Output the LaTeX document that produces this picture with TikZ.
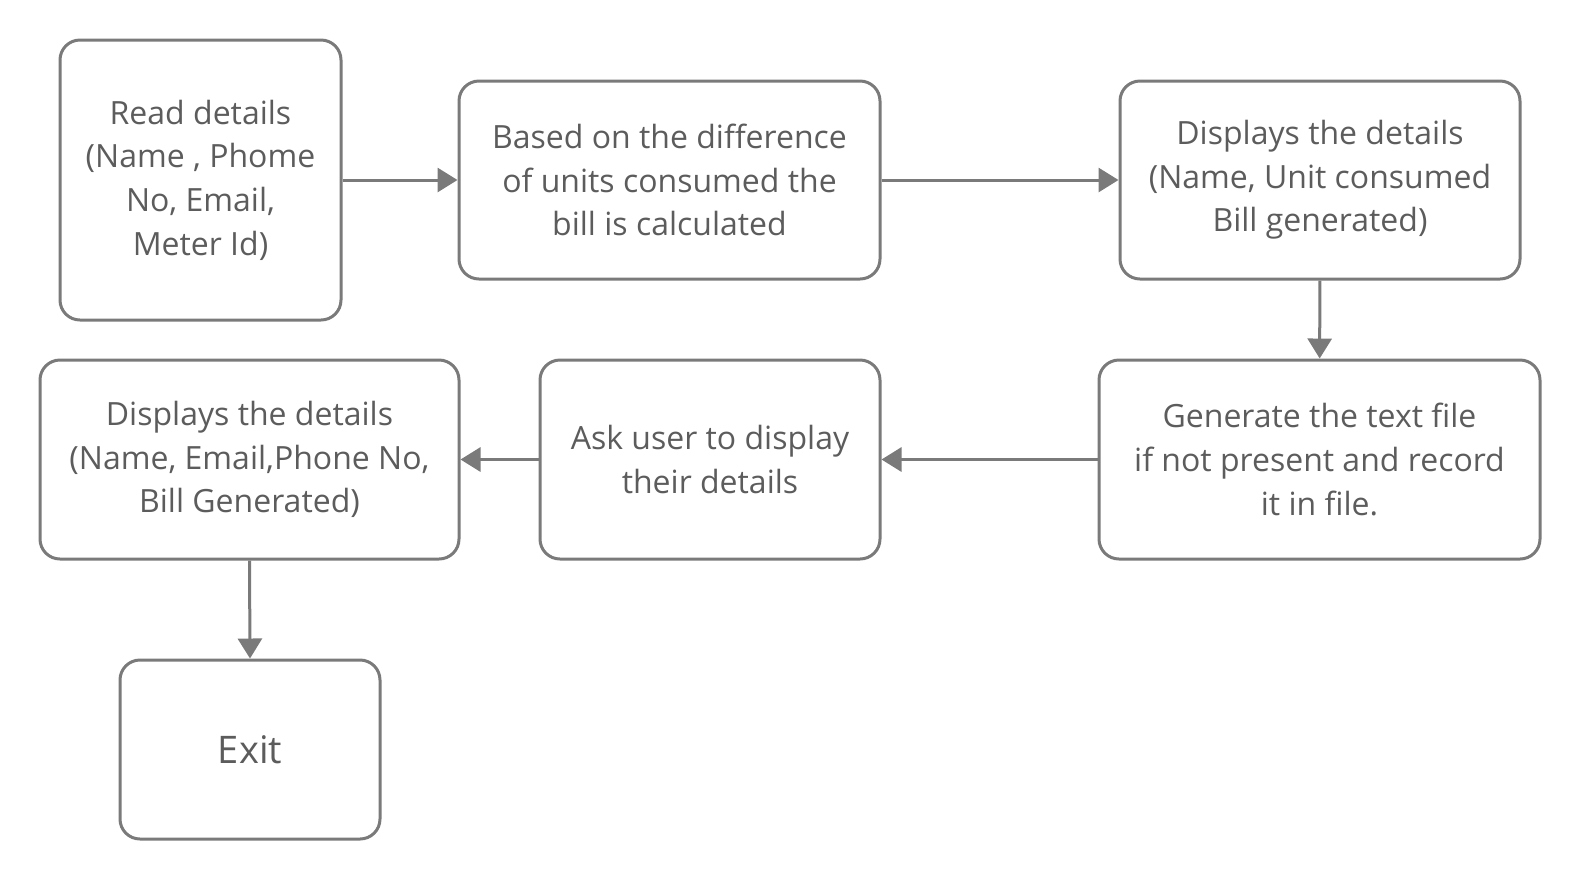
\documentclass[tikz,border=0pt]{standalone}
\usepackage{fontspec}
\setmainfont{Open Sans}
\usetikzlibrary{arrows.meta}
\definecolor{boxline}{HTML}{7A7A7A}
\definecolor{boxtext}{HTML}{5C5C5C}

\begin{document}
\begin{tikzpicture}[x=0.5pt,y=-0.5pt,
  box/.style={draw=boxline,line width=1.5pt,rounded corners=10pt,inner sep=0pt,
    align=center,text=boxtext,font=\fontsize{16pt}{21.8pt}\selectfont},
  flow/.style={draw=boxline,line width=1.5pt,-{Triangle[length=10pt,width=12pt]}}]
\useasboundingbox (0,0) rectangle (1580,880);
\node[box,minimum width=140.5pt,minimum height=140pt] (RD)at(200.5,180){Read details\\(Name , Phome\\No, Email,\\Meter Id)};
\node[box,minimum width=210.5pt,minimum height=99pt] (BC)at(669.5,180){Based on the difference\\of units consumed the\\bill is calculated};
\node[box,minimum width=200pt,minimum height=99pt] (DU)at(1320,180){Displays the details\\(Name, Unit consumed\\Bill generated)};
\node[box,minimum width=220.5pt,minimum height=99.5pt] (GF)at(1319.5,459.5){Generate the text file\\if not present and record\\it in file.};
\node[box,minimum width=170pt,minimum height=99.5pt] (AU)at(710,459.5){Ask user to display\\their details};
\node[box,minimum width=209.5pt,minimum height=99.5pt] (DE)at(249.5,459.5){Displays the details\\(Name, Email,Phone No,\\Bill Generated)};
\node[box,minimum width=130pt,minimum height=89.5pt,font=\fontsize{19pt}{22pt}\selectfont] (EX)at(250,749.5){Exit};
\draw[flow] (RD) to (BC);
\draw[flow] (BC) to (DU);
\draw[flow] (DU) to (GF);
\draw[flow] (GF) to (AU);
\draw[flow] (AU) to (DE);
\draw[flow] (DE.south) to (EX.north);
\end{tikzpicture}
\end{document}
